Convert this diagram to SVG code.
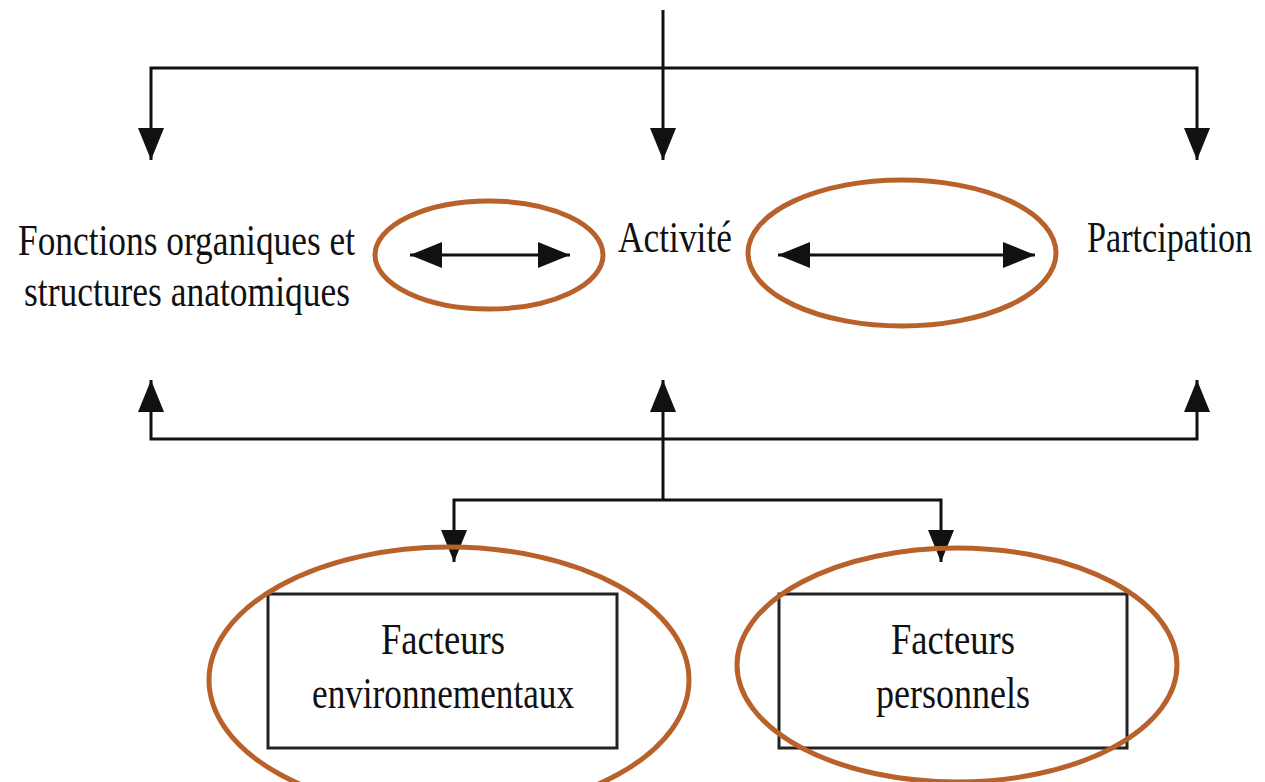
<svg xmlns="http://www.w3.org/2000/svg" width="1265" height="782" viewBox="0 0 1265 782">
<style>
.t{font-family:"Liberation Serif","Times New Roman",serif;fill:#111;font-size:45px}
.ln{fill:none;stroke:#111;stroke-width:3}
.ov{fill:none;stroke:#B8612A;stroke-width:5}
.bx{fill:#fff;stroke:#222;stroke-width:3}
</style>
<defs>
<marker id="ah" markerUnits="userSpaceOnUse" markerWidth="34" markerHeight="28" refX="32" refY="14" orient="auto-start-reverse">
<path d="M0,1 L32,14 L0,27 Z" fill="#111"/>
</marker>
</defs>
<rect width="1265" height="782" fill="#fff"/>
<g id="connectors">
<path class="ln" d="M663,10 V68"/>
<path class="ln" d="M151,160 V68 H1197 V160" marker-start="url(#ah)" marker-end="url(#ah)"/>
<path class="ln" d="M663,68 V160" marker-end="url(#ah)"/>
<path class="ln" d="M151,380 V439 H1197 V380" marker-start="url(#ah)" marker-end="url(#ah)"/>
<path class="ln" d="M663,500 V380" marker-end="url(#ah)"/>
<path class="ln" d="M454,562 V500 H941 V562" marker-start="url(#ah)" marker-end="url(#ah)"/>
<path class="ln" d="M410,255 H570" marker-start="url(#ah)" marker-end="url(#ah)"/>
<path class="ln" d="M778,255 H1035" marker-start="url(#ah)" marker-end="url(#ah)"/>
</g>
<g id="fonctions">
<text class="t" x="18" y="255" textLength="337" lengthAdjust="spacingAndGlyphs">Fonctions organiques et</text>
<text class="t" x="24" y="306" textLength="326" lengthAdjust="spacingAndGlyphs">structures anatomiques</text>
</g>
<g id="activite">
<text class="t" x="618" y="252" textLength="114" lengthAdjust="spacingAndGlyphs">Activité</text>
</g>
<g id="participation">
<text class="t" transform="translate(1087,252) scale(0.76,1)" x="0" y="0">Partcipation</text>
</g>
<g id="oval-fa">
<ellipse class="ov" cx="489" cy="255" rx="114" ry="54"/>
</g>
<g id="oval-ap">
<ellipse class="ov" cx="902" cy="253" rx="154" ry="73"/>
</g>
<g id="env">
<rect class="bx" x="268" y="594" width="349" height="154"/>
<text class="t" x="443" y="654" text-anchor="middle" textLength="124" lengthAdjust="spacingAndGlyphs">Facteurs</text>
<text class="t" x="443" y="708" text-anchor="middle" textLength="262" lengthAdjust="spacingAndGlyphs">environnementaux</text>
<ellipse class="ov" cx="449" cy="680" rx="240" ry="133"/>
</g>
<g id="pers">
<rect class="bx" x="779" y="594" width="348" height="154"/>
<text class="t" x="953" y="654" text-anchor="middle" textLength="124" lengthAdjust="spacingAndGlyphs">Facteurs</text>
<text class="t" x="953" y="708" text-anchor="middle" textLength="154" lengthAdjust="spacingAndGlyphs">personnels</text>
<ellipse class="ov" cx="957" cy="665" rx="220" ry="117"/>
</g>
</svg>
